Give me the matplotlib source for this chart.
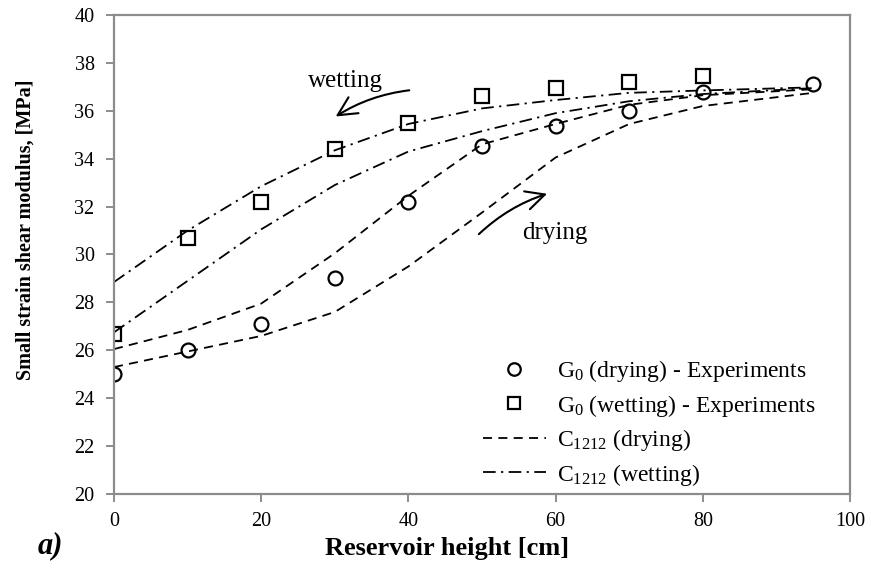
import matplotlib
matplotlib.use("Agg")
import matplotlib.pyplot as plt
from matplotlib.patches import FancyArrowPatch

plt.rcParams['font.family'] = ['Liberation Serif', 'DejaVu Serif']
plt.rcParams['mathtext.fontset'] = 'custom'
plt.rcParams['mathtext.rm'] = 'Liberation Serif'
plt.rcParams['mathtext.it'] = 'Liberation Serif:italic'
plt.rcParams['mathtext.bf'] = 'Liberation Serif:bold'

# Experimental data
x_dry = [0, 10, 20, 30, 40, 50, 60, 70, 80, 95]
g_dry = [25.0, 26.0, 27.1, 29.0, 32.2, 34.55, 35.35, 36.0, 36.8, 37.1]
x_wet = [0, 10, 20, 30, 40, 50, 60, 70, 80]
g_wet = [26.7, 30.7, 32.2, 34.4, 35.5, 36.6, 36.95, 37.2, 37.45]

# Model curves C1212
x_fit = [0, 10, 20, 30, 40, 50, 60, 70, 80, 95]
c_dry_upper = [26.05, 26.85, 27.95, 30.05, 32.45, 34.6, 35.45, 36.25, 36.65, 36.9]
c_dry_lower = [25.3, 25.95, 26.6, 27.6, 29.5, 31.75, 34.05, 35.45, 36.2, 36.75]
c_wet_upper = [28.85, 31.0, 32.85, 34.35, 35.45, 36.1, 36.45, 36.75, 36.85, 36.98]
c_wet_lower = [26.75, 28.9, 31.05, 32.9, 34.3, 35.15, 35.9, 36.4, 36.7, 36.95]

fig = plt.figure(figsize=(8.71, 5.75), dpi=100)
ax = fig.add_axes([114/871, 1-494/575, (850-114)/871, (494-15)/575])

ls_dash = (0, (5, 3.5))
ls_dashdot = (0, (7, 3, 1.2, 3))

ax.plot(x_fit, c_dry_upper, color='black', lw=1.3, ls=ls_dash, label=r'C$_{1212}$ (drying)')
ax.plot(x_fit, c_dry_lower, color='black', lw=1.3, ls=ls_dash)
ax.plot(x_fit, c_wet_upper, color='black', lw=1.3, ls=ls_dashdot, label=r'C$_{1212}$ (wetting)')
ax.plot(x_fit, c_wet_lower, color='black', lw=1.3, ls=ls_dashdot)

h1, = ax.plot(x_dry, g_dry, ls='none', marker='o', ms=10, mfc='none', mec='black', mew=1.6,
              label=r'G$_0$ (drying) - Experiments')
h2, = ax.plot(x_wet, g_wet, ls='none', marker='s', ms=10, mfc='none', mec='black', mew=1.6,
              label=r'G$_0$ (wetting) - Experiments')

ax.set_xlim(0, 100)
ax.set_ylim(20, 40)
ax.set_xticks(range(0, 101, 20))
ax.set_yticks(range(20, 41, 2))

for s in ax.spines.values():
    s.set_color('#8c8c8c')
    s.set_linewidth(1.6)
ax.tick_params(axis='both', direction='out', length=6, width=1.4, color='#8c8c8c',
               labelsize=14.5)
ax.tick_params(axis='y', pad=8)
ax.tick_params(axis='x', pad=7)

handles, labels = ax.get_legend_handles_labels()
order = [2, 3, 0, 1]
leg = ax.legend([handles[i] for i in order], [labels[i] for i in order],
                loc='center left', bbox_to_anchor=(483/871, 1-423/575),
                bbox_transform=fig.transFigure, frameon=False, fontsize=17,
                handlelength=2.65, handletextpad=0.5, labelspacing=0.36,
                borderpad=0, borderaxespad=0, markerscale=0.9)

# annotations
ax.add_patch(FancyArrowPatch((40.5, 36.87), (29.8, 35.7), connectionstyle='arc3,rad=0.12',
                             arrowstyle='->,head_length=9,head_width=4.5', color='black', lw=1.5,
                             mutation_scale=1.5))
ax.text(31.4, 37.24, 'wetting', fontsize=18, ha='center', va='center')
ax.add_patch(FancyArrowPatch((49.3, 30.77), (59.2, 32.57), connectionstyle='arc3,rad=-0.12',
                             arrowstyle='->,head_length=9,head_width=4.5', color='black', lw=1.5,
                             mutation_scale=1.5))
ax.text(59.9, 30.9, 'drying', fontsize=18, ha='center', va='center')

fig.text(447/871, 1-549/575, 'Reservoir height [cm]', fontsize=19, fontweight='bold',
         ha='center', va='center')
fig.text(26/871, 1-230/575, 'Small strain shear modulus, [MPa]', fontsize=14.5,
         fontweight='bold', ha='center', va='center', rotation=90)
fig.text(50/871, 1-546/575, 'a)', fontsize=22, fontweight='bold', fontstyle='italic',
         ha='center', va='center')

fig.savefig('out.png', dpi=100)
